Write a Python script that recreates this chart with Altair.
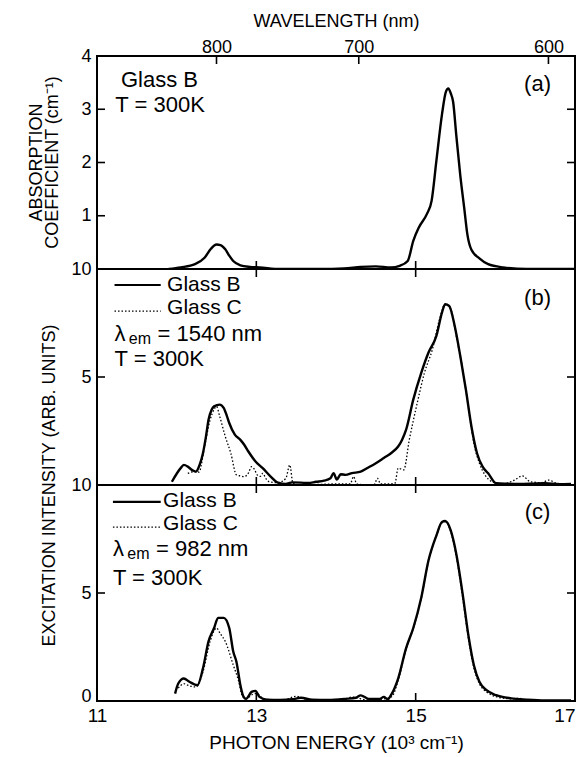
import altair as alt
import pandas as pd

# ---------------- data ----------------
# Panel (a): absorption coefficient of Glass B (cm^-1) vs photon energy (10^3 cm^-1)
a_energy = [11.90, 12.05, 12.23, 12.35, 12.43, 12.50, 12.55, 12.61, 12.66, 12.71, 12.80,
            12.92, 13.04, 13.30, 13.80, 14.10, 14.31, 14.50, 14.69, 14.80, 14.90, 14.97,
            15.04, 15.14, 15.20, 15.26, 15.33, 15.38, 15.41, 15.44, 15.47, 15.51, 15.56,
            15.61, 15.65, 15.70, 15.80, 15.91, 16.10, 16.39, 17.00]
a_glassB = [0.00, 0.03, 0.09, 0.21, 0.38, 0.46, 0.45, 0.37, 0.25, 0.15, 0.07,
            0.04, 0.03, 0.00, 0.00, 0.01, 0.04, 0.05, 0.03, 0.06, 0.15, 0.53,
            0.78, 1.03, 1.28, 2.03, 2.90, 3.33, 3.39, 3.30, 3.14, 2.51, 1.76,
            1.14, 0.64, 0.36, 0.20, 0.09, 0.03, 0.00, 0.00]

# Panel (b): excitation spectra, lambda_em = 1540 nm
b_energy_B = [11.94, 12.05, 12.09, 12.14, 12.19, 12.24, 12.29, 12.33, 12.37, 12.40, 12.44,
              12.47, 12.54, 12.59, 12.63, 12.66, 12.73, 12.80, 12.85, 12.90, 12.99, 13.08,
              13.18, 13.27, 13.37, 13.45, 13.56, 13.65, 13.75, 13.85, 13.93, 13.97, 14.01,
              14.06, 14.12, 14.20, 14.31, 14.40, 14.50, 14.60, 14.69, 14.78, 14.83, 14.88,
              14.97, 15.07, 15.16, 15.26, 15.33, 15.37, 15.42, 15.49, 15.56, 15.63, 15.70,
              15.77, 15.84, 15.91, 16.01, 16.15, 16.29, 16.45, 16.62, 16.80, 16.95]
b_glassB = [0.15, 0.78, 0.93, 0.85, 0.70, 0.62, 0.95, 1.47, 2.30, 3.02, 3.50,
            3.64, 3.72, 3.57, 3.20, 2.87, 2.33, 2.09, 1.85, 1.55, 1.09, 0.78,
            0.39, 0.11, 0.05, 0.12, 0.11, 0.09, 0.15, 0.20, 0.31, 0.55, 0.25,
            0.50, 0.47, 0.55, 0.62, 0.80, 1.01, 1.25, 1.47, 1.78, 2.10, 2.56,
            3.95, 5.19, 6.12, 6.90, 7.98, 8.37, 8.29, 7.36, 5.97, 4.42, 2.71,
            1.47, 0.85, 0.54, 0.08, 0.06, 0.05, 0.06, 0.08, 0.04, 0.05]
b_energy_C = [12.14, 12.22, 12.28, 12.35, 12.42, 12.47, 12.50, 12.54, 12.61, 12.68, 12.75,
              12.80, 12.85, 12.90, 12.94, 12.98, 13.01, 13.05, 13.08, 13.12, 13.16, 13.27,
              13.37, 13.42, 13.46, 13.56, 13.80, 14.03, 14.18, 14.22, 14.26, 14.40, 14.48,
              14.52, 14.56, 14.66, 14.74, 14.78, 14.85, 14.92, 15.02, 15.11, 15.21, 15.30,
              15.37, 15.44, 15.51, 15.59, 15.66, 15.73, 15.80, 15.87, 15.96, 16.10, 16.24,
              16.34, 16.44, 16.58, 16.67, 16.77, 16.95]
b_glassC = [0.54, 0.62, 0.60, 1.78, 3.02, 3.50, 3.64, 3.18, 2.25, 1.47, 0.47,
            0.42, 0.39, 0.55, 0.85, 0.70, 0.47, 0.40, 0.54, 0.30, 0.15, 0.11,
            0.30, 0.93, 0.08, 0.00, 0.03, 0.05, 0.05, 0.39, 0.05, 0.00, 0.02,
            0.31, 0.05, 0.05, 0.08, 0.78, 0.70, 2.09, 3.80, 5.19, 6.28, 7.67,
            8.37, 8.14, 6.90, 5.35, 3.64, 1.94, 1.01, 0.47, 0.15, 0.05, 0.23,
            0.42, 0.15, 0.11, 0.23, 0.08, 0.03]

# Panel (c): excitation spectra, lambda_em = 982 nm
c_energy_B = [11.98, 12.02, 12.09, 12.16, 12.26, 12.33, 12.40, 12.47, 12.52, 12.59, 12.66,
              12.71, 12.75, 12.80, 12.84, 12.87, 12.94, 12.99, 13.04, 13.13, 13.30, 13.45,
              13.56, 13.70, 13.90, 14.12, 14.25, 14.31, 14.41, 14.55, 14.60, 14.65, 14.69,
              14.78, 14.88, 14.97, 15.07, 15.16, 15.26, 15.33, 15.37, 15.44, 15.51, 15.59,
              15.66, 15.73, 15.80, 15.89, 16.01, 16.20, 16.39, 16.62, 16.95]
c_glassB = [0.34, 0.81, 1.04, 0.89, 0.73, 1.51, 2.76, 3.38, 3.85, 3.85, 3.38,
            2.29, 1.82, 0.73, 0.19, 0.10, 0.42, 0.47, 0.19, 0.06, 0.05, 0.08,
            0.15, 0.06, 0.05, 0.10, 0.15, 0.26, 0.10, 0.10, 0.19, 0.08, 0.27,
            1.04, 2.45, 3.38, 4.78, 6.49, 7.66, 8.29, 8.33, 7.90, 6.81, 4.95,
            3.08, 1.67, 0.89, 0.50, 0.27, 0.12, 0.06, 0.02, 0.02]
c_energy_C = [12.02, 12.09, 12.14, 12.24, 12.33, 12.42, 12.50, 12.55, 12.61, 12.71, 12.78,
              12.82, 12.87, 12.95, 13.00, 13.10, 13.35, 13.50, 13.60, 13.80, 14.10, 14.20,
              14.40, 14.60, 14.70, 14.78, 14.88, 14.97, 15.07, 15.16, 15.26, 15.33, 15.37,
              15.44, 15.51, 15.59, 15.66, 15.73, 15.80, 15.89, 16.01, 16.20, 16.30, 16.40,
              16.62, 16.95]
c_glassC = [0.60, 0.80, 0.73, 0.65, 1.35, 2.76, 3.38, 3.10, 2.76, 1.67, 0.89,
            0.27, 0.10, 0.30, 0.35, 0.08, 0.05, 0.22, 0.10, 0.05, 0.08, 0.18,
            0.05, 0.10, 0.20, 0.95, 2.40, 3.35, 4.75, 6.45, 7.65, 8.25, 8.30,
            7.85, 6.70, 4.80, 2.95, 1.55, 0.80, 0.42, 0.20, 0.10, 0.12, 0.03,
            0.02, 0.02]

# axis tick values
energy_ticks = [11, 13, 15, 17]
inner_energy_ticks = [13, 15]
wavelength_ticks_nm = [800, 700, 600]
a_yticks = [1, 2, 3, 4]
bc_yticks = [5, 10]

# ---------------- layout / style ----------------
FONT = "Liberation Sans"
W = 478
H_A, H_B, H_C = 213, 216, 216
TICK = 8
TXT = 22
LEG = 21
XS = alt.Scale(domain=[11, 17], nice=False, zero=False)


def X(axis, field="e"):
    return alt.X(f"{field}:Q", scale=XS, axis=axis)


def Y(scale, axis, field="v"):
    return alt.Y(f"{field}:Q", scale=scale, axis=axis)


def curve(xs, ys, dotted, xaxis, ys_scale, yaxis):
    df = pd.DataFrame({"e": xs, "v": ys})
    kw = dict(color="black", interpolate="monotone", clip=True)
    if dotted:
        kw.update(strokeWidth=1.3, strokeDash=[1.5, 2])
    else:
        kw.update(strokeWidth=2.4)
    return alt.Chart(df).mark_line(**kw).encode(x=X(xaxis), y=Y(ys_scale, yaxis))


def xtick_rules(vals, top, H, xaxis):
    df = pd.DataFrame({"e": vals})
    y0, y1 = (0, TICK) if top else (H - TICK, H)
    return alt.Chart(df).mark_rule(color="black", strokeWidth=1.6).encode(
        x=X(xaxis), y=alt.value(y0), y2=alt.value(y1))


def ytick_rules(vals, yscale, yaxis):
    df = pd.DataFrame({"v": vals})
    base = alt.Chart(df).mark_rule(color="black", strokeWidth=1.6)
    left = base.encode(y=Y(yscale, yaxis), x=alt.value(0), x2=alt.value(TICK))
    right = base.encode(y=Y(yscale, yaxis), x=alt.value(W - TICK), x2=alt.value(W))
    return [left, right]


def text(x, y, t, xaxis, yscale, yaxis, size=TXT, align="left", dy=0):
    df = pd.DataFrame({"e": [x], "v": [y], "t": [t]})
    return alt.Chart(df).mark_text(align=align, baseline="middle", font=FONT,
                                   fontSize=size, color="black", dy=dy).encode(
        x=X(xaxis), y=Y(yscale, yaxis), text="t:N")


def side_title(t, px, H):
    df = pd.DataFrame({"t": [t]})
    return alt.Chart(df).mark_text(align="center", baseline="middle", font=FONT,
                                   fontSize=18, color="black", angle=270).encode(
        x=alt.value(px), y=alt.value(H / 2), text="t:N")


def legend_line(x1, x2, y, dotted, xaxis, yscale, yaxis):
    df = pd.DataFrame({"e": [x1], "e2": [x2], "v": [y]})
    kw = dict(color="black")
    if dotted:
        kw.update(strokeWidth=1.3, strokeDash=[1.5, 2])
    else:
        kw.update(strokeWidth=2.2)
    return alt.Chart(df).mark_rule(**kw).encode(x=X(xaxis), x2="e2:Q", y=Y(yscale, yaxis))


# ---------------- panel (a) ----------------
ys_a = alt.Scale(domain=[0, 4], nice=False)
xaxis_a = alt.Axis(orient="top", values=[1e4 / w for w in wavelength_ticks_nm],
                   labelExpr="format(10000 / datum.value, '.0f')",
                   ticks=False, domain=False, grid=False, labelPadding=0,
                   labelFontSize=18, title="WAVELENGTH (nm)", titlePadding=8,
                   titleFontSize=18)
yaxis_a = alt.Axis(values=a_yticks, ticks=False, domain=False, grid=False,
                   labelPadding=6, title=None)

layers_a = [
    curve(a_energy, a_glassB, False, xaxis_a, ys_a, yaxis_a),
    xtick_rules([1e4 / w for w in wavelength_ticks_nm], True, H_A, xaxis_a),
    xtick_rules(inner_energy_ticks, False, H_A, xaxis_a),
    *ytick_rules([1, 2, 3], ys_a, yaxis_a),
    side_title("ABSORPTION", -60, H_A),
    side_title("COEFFICIENT (cm\u207b\u00b9)", -44, H_A),
    text(11.30, 3.55, "Glass   B", xaxis_a, ys_a, yaxis_a),
    text(11.23, 3.08, "T = 300K", xaxis_a, ys_a, yaxis_a),
    text(16.53, 3.47, "(a)", xaxis_a, ys_a, yaxis_a, align="center"),
]
panel_a = alt.layer(*layers_a).properties(width=W, height=H_A)

# ---------------- panel (b) ----------------
ys_b = alt.Scale(domain=[0, 10], nice=False)
yaxis_b = alt.Axis(values=bc_yticks, ticks=False, domain=False, grid=False,
                   labelPadding=6, title="EXCITATION INTENSITY (ARB. UNITS)",
                   titleX=-48, titleY=H_B, titleAngle=270, titleAlign="center",
                   titleBaseline="middle", titleFontSize=18)
xaxis_b = None

layers_b = [
    curve(b_energy_C, b_glassC, True, xaxis_b, ys_b, yaxis_b),
    curve(b_energy_B, b_glassB, False, xaxis_b, ys_b, yaxis_b),
    xtick_rules(inner_energy_ticks, True, H_B, xaxis_b),
    xtick_rules(inner_energy_ticks, False, H_B, xaxis_b),
    *ytick_rules([5], ys_b, yaxis_b),
    legend_line(11.22, 11.80, 9.26, False, xaxis_b, ys_b, yaxis_b),
    legend_line(11.22, 11.80, 8.05, True, xaxis_b, ys_b, yaxis_b),
    text(11.88, 9.25, "Glass   B", xaxis_b, ys_b, yaxis_b, size=LEG),
    text(11.88, 8.20, "Glass   C", xaxis_b, ys_b, yaxis_b, size=LEG),
    text(11.22, 6.98, "\u03bb", xaxis_b, ys_b, yaxis_b),
    text(11.40, 6.98, "em", xaxis_b, ys_b, yaxis_b, size=16, dy=5),
    text(11.76, 6.98, "= 1540 nm", xaxis_b, ys_b, yaxis_b),
    text(11.22, 5.85, "T = 300K", xaxis_b, ys_b, yaxis_b),
    text(16.53, 8.68, "(b)", xaxis_b, ys_b, yaxis_b, align="center"),
]
panel_b = alt.layer(*layers_b).properties(width=W, height=H_B)

# ---------------- panel (c) ----------------
ys_c = alt.Scale(domain=[0, 10], nice=False)
yaxis_c = alt.Axis(values=[0] + bc_yticks, ticks=False, domain=False, grid=False,
                   labelPadding=6, title=None,
                   labelBaseline={"condition": {"test": "datum.value == 0",
                                                "value": "alphabetic"},
                                  "value": "middle"})
xaxis_c = alt.Axis(orient="bottom", values=energy_ticks, ticks=False, domain=False,
                   grid=False, labelPadding=5, labelFontSize=19,
                   labelAlign={"condition": {"test": "datum.value == 17", "value": "right"},
                               "value": "center"},
                   title="PHOTON ENERGY (10\u00b3 cm\u207b\u00b9)", titlePadding=8,
                   titleFontSize=19)

layers_c = [
    curve(c_energy_C, c_glassC, True, xaxis_c, ys_c, yaxis_c),
    curve(c_energy_B, c_glassB, False, xaxis_c, ys_c, yaxis_c),
    xtick_rules(inner_energy_ticks, True, H_C, xaxis_c),
    xtick_rules(inner_energy_ticks, False, H_C, xaxis_c),
    *ytick_rules([5], ys_c, yaxis_c),
    legend_line(11.20, 11.80, 9.22, False, xaxis_c, ys_c, yaxis_c),
    legend_line(11.20, 11.80, 8.05, True, xaxis_c, ys_c, yaxis_c),
    text(11.83, 9.25, "Glass   B", xaxis_c, ys_c, yaxis_c, size=LEG),
    text(11.83, 8.18, "Glass   C", xaxis_c, ys_c, yaxis_c, size=LEG),
    text(11.20, 7.04, "\u03bb", xaxis_c, ys_c, yaxis_c),
    text(11.38, 7.04, "em", xaxis_c, ys_c, yaxis_c, size=16, dy=5),
    text(11.74, 7.04, "= 982 nm", xaxis_c, ys_c, yaxis_c),
    text(11.20, 5.68, "T = 300K", xaxis_c, ys_c, yaxis_c),
    text(16.53, 8.75, "(c)", xaxis_c, ys_c, yaxis_c, align="center"),
]
panel_c = alt.layer(*layers_c).properties(width=W, height=H_C)

chart = (
    alt.vconcat(panel_a, panel_b, panel_c, spacing=0, bounds="flush")
    .properties(padding={"left": 19, "top": 3, "right": 0, "bottom": 0})
    .configure_view(stroke="black", strokeWidth=2)
    .configure_axis(labelFont=FONT, titleFont=FONT, labelFontSize=18, titleFontSize=18,
                    labelColor="black", titleColor="black", titleFontWeight="normal")
)

chart.save("out.html", embed_options={"renderer": "svg", "actions": False})
